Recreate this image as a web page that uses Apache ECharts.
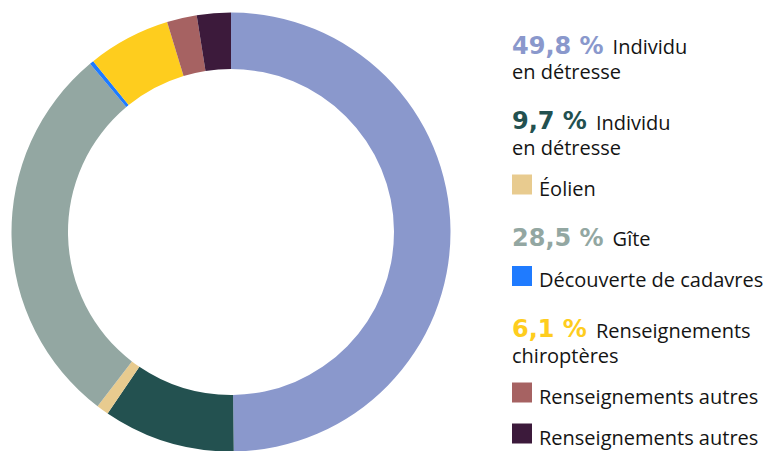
<!DOCTYPE html>
<html>
<head>
<meta charset="utf-8">
<script src="https://cdn.jsdelivr.net/npm/echarts@6/dist/echarts.min.js"></script>
<style>
  html, body { margin: 0; padding: 0; background: #ffffff; }
  #chart { width: 781px; height: 451px; }
</style>
</head>
<body>
<div id="chart"></div>
<script>
// Categories and their shares (%)
const categories = [
  'Individu en détresse',
  'Individu en détresse',
  'Éolien',
  'Gîte',
  'Découverte de cadavres',
  'Renseignements chiroptères',
  'Renseignements autres',
  'Renseignements autres'
];
const values = [49.8, 9.7, 0.9, 28.5, 0.3, 6.1, 2.2, 2.5];
const colors = ['#8a98cc', '#235150', '#e8cb8f', '#93a7a2', '#1f7bff', '#fecd1e', '#a66262', '#3c1a3b'];
// Entries whose share is printed in the legend; the others get a colour swatch
const showShare = [true, true, false, true, false, true, false, false];
// Legend wording, broken over lines
const legendLines = [
  ['Individu', 'en détresse'],
  ['Individu', 'en détresse'],
  ['Éolien'],
  ['Gîte'],
  ['Découverte de cadavres'],
  ['Renseignements', 'chiroptères'],
  ['Renseignements autres'],
  ['Renseignements autres']
];

const SHARE_FONT = 'bold 24px "DejaVu Sans"';
const NAME_FONT = '20px "Open Sans"';
const NAME_COLOR = '#141414';

const measureCtx = document.createElement('canvas').getContext('2d');
function textWidth(text, font) {
  measureCtx.font = font;
  return measureCtx.measureText(text).width;
}

// Place a single line of text by its baseline
function lineAt(x, baseline, text, font, size, fill) {
  return {
    type: 'text',
    x: x,
    y: baseline - 0.29 * size,
    silent: true,
    style: {
      text: text, font: font, fill: fill,
      lineHeight: size, verticalAlign: 'middle', align: 'left'
    }
  };
}

// Legend, stacked top to bottom
const legendX = 512;
const swatch = 20;
const swatchTextX = 539;
const lineStep = 25;
const elements = [];
let baseline = 52.5;
categories.forEach(function (cat, i) {
  if (i > 0) baseline += showShare[i] ? 50.5 : 41;
  const lines = legendLines[i];
  if (showShare[i]) {
    const share = values[i].toFixed(1).replace('.', ',') + ' %';
    elements.push(lineAt(legendX, baseline, share, SHARE_FONT, 24, colors[i]));
    const w = textWidth(share, SHARE_FONT);
    elements.push(lineAt(legendX + w + 9, baseline, lines[0], NAME_FONT, 20, NAME_COLOR));
    for (let k = 1; k < lines.length; k++) {
      baseline += lineStep;
      elements.push(lineAt(legendX, baseline, lines[k], NAME_FONT, 20, NAME_COLOR));
    }
  } else {
    elements.push({
      type: 'rect',
      silent: true,
      shape: { x: legendX, y: baseline - swatch + 0.5, width: swatch, height: swatch },
      style: { fill: colors[i] }
    });
    elements.push(lineAt(swatchTextX, baseline, lines[0], NAME_FONT, 20, NAME_COLOR));
  }
});

const chart = echarts.init(document.getElementById('chart'), null, { renderer: 'svg' });
chart.setOption({
  animation: false,
  backgroundColor: '#ffffff',
  series: [{
    type: 'pie',
    center: [231, 232],
    radius: [163, 219.5],
    startAngle: 90,
    clockwise: true,
    silent: true,
    avoidLabelOverlap: false,
    label: { show: false },
    labelLine: { show: false },
    emphasis: { disabled: true },
    itemStyle: { borderWidth: 0 },
    data: categories.map(function (name, i) {
      return { name: name, value: values[i], itemStyle: { color: colors[i] } };
    })
  }],
  graphic: { elements: elements }
});
</script>
</body>
</html>
